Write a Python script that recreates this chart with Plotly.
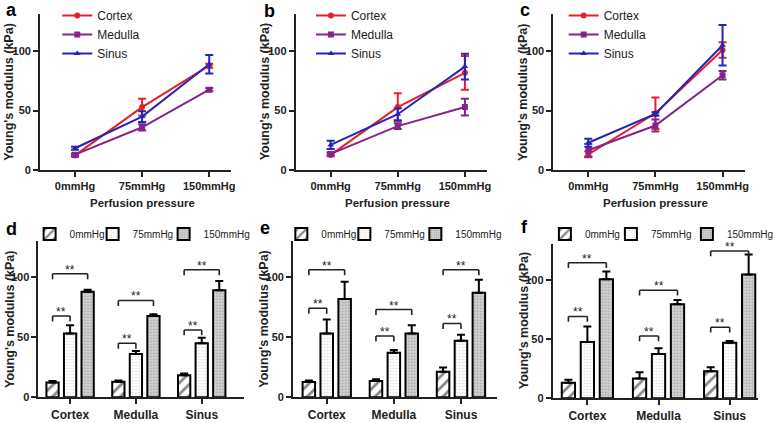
import plotly.graph_objects as go

W, H = 778, 423
FONT = "Arial, Liberation Sans, sans-serif"

pressures = ["0mmHg", "75mmHg", "150mmHg"]
regions = ["Cortex", "Medulla", "Sinus"]
panel_letters_top = ["a", "b", "c"]
panel_letters_bottom = ["d", "e", "f"]

# Experiment 1 (panels a and d): mean and SD for 0, 75, 150 mmHg
e1_cortex = [12.4, 53.0, 87.8]
e1_cortex_sd = [1.1, 7.0, 1.7]
e1_medulla = [13.0, 36.0, 67.6]
e1_medulla_sd = [1.0, 2.6, 1.4]
e1_sinus = [18.4, 45.0, 89.0]
e1_sinus_sd = [1.3, 4.5, 7.7]

# Experiment 2 (panels b and e)
e2_cortex = [12.8, 53.0, 81.8]
e2_cortex_sd = [1.1, 11.7, 14.2]
e2_medulla = [13.6, 37.0, 53.0]
e2_medulla_sd = [1.4, 2.4, 7.0]
e2_sinus = [21.2, 47.0, 87.0]
e2_sinus_sd = [3.5, 5.0, 10.8]

# Experiment 3 (panels c and f)
e3_cortex = [13.3, 47.8, 101.0]
e3_cortex_sd = [2.5, 13.2, 6.5]
e3_medulla = [16.7, 37.5, 79.7]
e3_medulla_sd = [5.3, 5.0, 3.6]
e3_sinus = [23.0, 47.2, 105.0]
e3_sinus_sd = [3.4, 1.4, 17.0]

# Significance bracket heights (kPa): 0 vs 75 mmHg and 0 vs 150 mmHg, per region
sig1_low = [67.6, 44.9, 56.0]
sig1_high = [102.7, 80.5, 106.0]
sig2_low = [74.0, 51.0, 61.4]
sig2_high = [106.0, 73.0, 106.0]
sig3_low = [69.4, 52.8, 60.3]
sig3_high = [115.0, 91.7, 125.0]
sig_label = "**"

y_ticks = [0, 50, 100]

experiments = [
    ([e1_cortex, e1_medulla, e1_sinus], [e1_cortex_sd, e1_medulla_sd, e1_sinus_sd], sig1_low, sig1_high),
    ([e2_cortex, e2_medulla, e2_sinus], [e2_cortex_sd, e2_medulla_sd, e2_sinus_sd], sig2_low, sig2_high),
    ([e3_cortex, e3_medulla, e3_sinus], [e3_cortex_sd, e3_medulla_sd, e3_sinus_sd], sig3_low, sig3_high),
]

line_colors = ["#e4202a", "#86228e", "#2424b6"]
line_symbols = ["circle", "square", "triangle-up"]

bar_bg = ["white", "white", "#d4d4d4"]
bar_patterns = [
    dict(shape="/", fgcolor="#111", bgcolor="white", size=8, solidity=0.35),
    dict(shape=".", fgcolor="#b8b8b8", bgcolor="white", size=3, solidity=0.25),
    dict(shape=".", fgcolor="#7a7a7a", bgcolor="#dcdcdc", size=3, solidity=0.45),
]
bar_legend_widths = [[18, 26, 46], [18, 26, 46], [21, 31, 46]]

BARGAP = 0.2
SLOT = (1 - BARGAP) / 3


def fx(px):
    return px / W


def fy(py):
    return 1 - py / H


# layout geometry in pixels
top_x = [(40.6, 234.4), (299.6, 493.4), (560.6, 754.4)]
top_y = (14.5, 173.0)
top_xrange = [-0.52, 2.33]
top_yrange = [0, 131]
bot_x = [(39, 247), (297, 503), (560, 768)]
bot_xrange = [[-0.48, 2.64], [-0.5, 2.53], [-0.486, 2.40]]
bot_y = [(245, 404), (245, 404), (248, 405)]
bot_yrange = [[0, 130], [0, 130], [0, 131]]
top_legend_pos = [(58, 1), (315, 1), (571, 1)]
bot_legend_pos = [(30, 238), (285, 238), (552, 238)]
letter_pos_top = [(12, 10), (273, 11), (532, 10)]
letter_pos_bot = [(12, 233), (268, 232), (531, 231)]

fig = go.Figure()
shapes = []
annotations = []
layout = dict(
    width=W, height=H, margin=dict(l=0, r=0, t=0, b=0),
    paper_bgcolor="white", plot_bgcolor="white",
    barmode="group", bargap=BARGAP, bargroupgap=0.3,
    font=dict(family=FONT, color="#222"),
)

axis_common = dict(
    showline=True, linecolor="#222", linewidth=2, ticks="outside", ticklen=5,
    tickwidth=2, tickcolor="#222", showgrid=False, zeroline=False,
    tickfont=dict(family=FONT, size=11, color="#222", weight="bold"),
)

for k, (means, sds, slow, shigh) in enumerate(experiments):
    it = k + 1
    ib = k + 4
    xt = "x" if it == 1 else f"x{it}"
    yt = "y" if it == 1 else f"y{it}"
    xb, yb = f"x{ib}", f"y{ib}"
    leg_t = "legend" if it == 1 else f"legend{it}"
    leg_b = f"legend{ib}"

    # line chart
    for r, reg in enumerate(regions):
        fig.add_trace(go.Scatter(
            x=list(range(len(pressures))), y=means[r], name=reg,
            mode="lines+markers",
            line=dict(color=line_colors[r], width=2),
            marker=dict(color=line_colors[r], symbol=line_symbols[r], size=6),
            error_y=dict(type="data", array=sds[r], color=line_colors[r], thickness=2, width=4),
            xaxis=xt, yaxis=yt, legend=leg_t,
        ))

    # bar chart
    for p, pname in enumerate(pressures):
        fig.add_trace(go.Bar(
            x=list(range(len(regions))), y=[means[r][p] for r in range(len(regions))],
            name=pname, legendwidth=bar_legend_widths[k][p],
            marker=dict(color=bar_bg[p], line=dict(color="black", width=2), pattern=bar_patterns[p]),
            error_y=dict(type="data", symmetric=False,
                         array=[sds[r][p] for r in range(len(regions))],
                         arrayminus=[0] * len(regions),
                         color="black", thickness=2, width=4),
            xaxis=xb, yaxis=yb, legend=leg_b,
        ))

    # significance brackets
    dtick = 4.5
    for r in range(len(regions)):
        x0 = r - SLOT
        for x1, yv in ((r, slow[r]), (r + SLOT, shigh[r])):
            for (a0, b0, a1, b1) in ((x0, yv - dtick, x0, yv), (x0, yv, x1, yv), (x1, yv, x1, yv - dtick)):
                shapes.append(dict(type="line", xref=xb, yref=yb, x0=a0, y0=b0, x1=a1, y1=b1,
                                   line=dict(color="#222", width=1.6)))
            annotations.append(dict(x=(x0 + x1) / 2, y=yv, xref=xb, yref=yb, text=sig_label,
                                    showarrow=False, yanchor="bottom", yshift=-5,
                                    font=dict(family=FONT, size=12, color="#222")))

    # axes
    ax_t = "xaxis" if it == 1 else f"xaxis{it}"
    ay_t = "yaxis" if it == 1 else f"yaxis{it}"
    layout[ax_t] = dict(axis_common, domain=[fx(top_x[k][0]), fx(top_x[k][1])], range=top_xrange,
                        anchor=yt, tickvals=list(range(len(pressures))), ticktext=pressures)
    layout[ay_t] = dict(axis_common, domain=[fy(top_y[1]), fy(top_y[0])], range=top_yrange,
                        anchor=xt, tickvals=y_ticks)
    layout[f"xaxis{ib}"] = dict(axis_common, domain=[fx(bot_x[k][0]), fx(bot_x[k][1])],
                                range=bot_xrange[k], anchor=yb,
                                tickvals=list(range(len(regions))), ticktext=regions,
                                tickfont=dict(family=FONT, size=12, color="#222", weight="bold"))
    layout[f"yaxis{ib}"] = dict(axis_common, domain=[fy(bot_y[k][1]), fy(bot_y[k][0])],
                                range=bot_yrange[k], anchor=xb, tickvals=y_ticks)

    # legends
    layout[leg_t] = dict(x=fx(top_legend_pos[k][0]), y=fy(top_legend_pos[k][1]),
                         xanchor="left", yanchor="top", bgcolor="rgba(0,0,0,0)",
                         font=dict(family=FONT, size=12, color="#222"), tracegroupgap=0,
                         itemwidth=30)
    layout[leg_b] = dict(x=fx(bot_legend_pos[k][0]), y=fy(bot_legend_pos[k][1]),
                         xanchor="left", yanchor="middle", orientation="h",
                         bgcolor="rgba(0,0,0,0)", itemwidth=30,
                         font=dict(family=FONT, size=10, color="#222"))

    # titles
    yc_t = (top_y[0] + top_y[1]) / 2
    annotations.append(dict(x=fx(top_x[k][0] - 31), y=fy(yc_t), xref="paper", yref="paper",
                            text="Young's modulus (kPa)", textangle=-90, showarrow=False,
                            xanchor="center", yanchor="middle",
                            font=dict(family=FONT, size=12.5, color="#222", weight="bold")))
    yc_b = (bot_y[k][0] + bot_y[k][1]) / 2
    annotations.append(dict(x=fx(bot_x[k][0] - 29), y=fy(yc_b), xref="paper", yref="paper",
                            text="Young's modulus (kPa)", textangle=-90, showarrow=False,
                            xanchor="center", yanchor="middle",
                            font=dict(family=FONT, size=12.5, color="#222", weight="bold")))
    annotations.append(dict(x=1, y=fy(206), xref=xt, yref="paper",
                            text="Perfusion pressure", showarrow=False,
                            xanchor="center", yanchor="middle",
                            font=dict(family=FONT, size=11.5, color="#222", weight="bold")))
    annotations.append(dict(x=fx(letter_pos_top[k][0]), y=fy(letter_pos_top[k][1]), xref="paper", yref="paper",
                            text=panel_letters_top[k], showarrow=False,
                            xanchor="center", yanchor="middle",
                            font=dict(family=FONT, size=18, color="black", weight="bold")))
    annotations.append(dict(x=fx(letter_pos_bot[k][0]), y=fy(letter_pos_bot[k][1]), xref="paper", yref="paper",
                            text=panel_letters_bottom[k], showarrow=False,
                            xanchor="center", yanchor="middle",
                            font=dict(family=FONT, size=18, color="black", weight="bold")))

layout["shapes"] = shapes
layout["annotations"] = annotations
fig.update_layout(**layout)
fig.write_html("out.html", config={"displayModeBar": False},
               post_script="document.body.style.margin='0px';document.body.style.overflow='hidden';")
